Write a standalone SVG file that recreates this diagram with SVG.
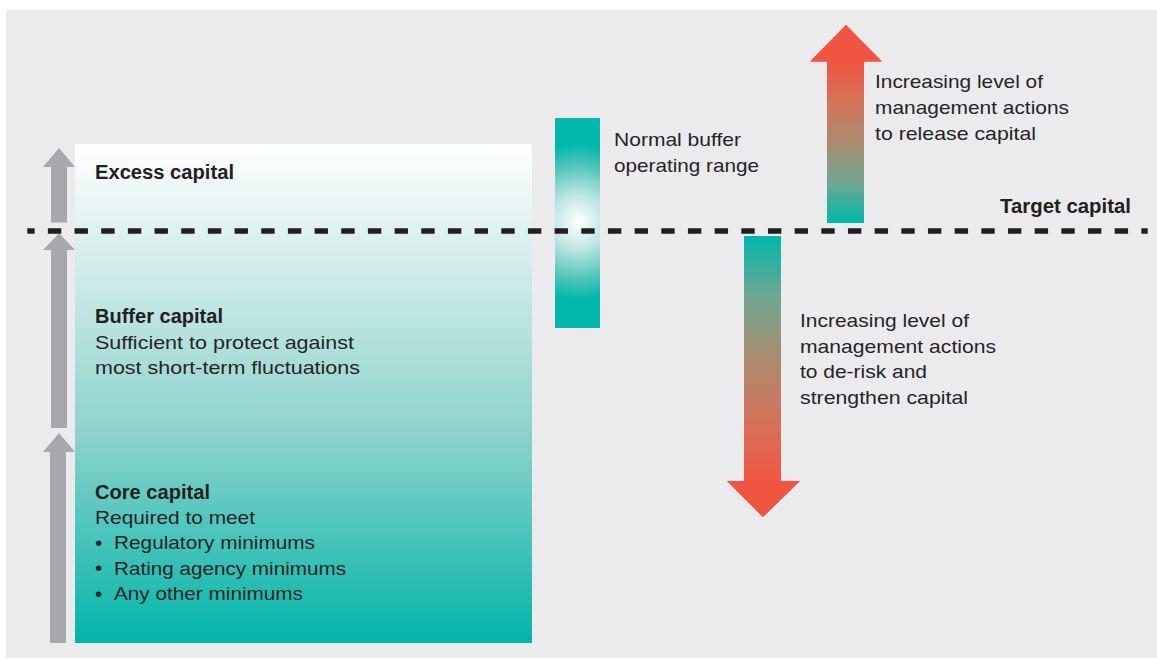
<svg xmlns="http://www.w3.org/2000/svg" width="1157" height="659" viewBox="0 0 1157 659">
  <defs>
    <style>
      .t { font-family: "Liberation Sans", Arial, sans-serif; font-size: 19px; fill: #262425; }
      .b { font-family: "Liberation Sans", Arial, sans-serif; font-size: 19.5px; font-weight: bold; fill: #231F20; }
      .dot { font-family: "Liberation Sans", Arial, sans-serif; font-size: 21px; fill: #262425; }
      .grey { fill: #A7A8AC; }
    </style>
    <!-- capital stack: white at the top fading to teal -->
    <linearGradient id="stackFill" x1="0" y1="144" x2="0" y2="643" gradientUnits="userSpaceOnUse">
      <stop offset="0" stop-color="#FFFFFF"/>
      <stop offset="0.3" stop-color="#C6E8E4"/>
      <stop offset="0.6" stop-color="#88D1CA"/>
      <stop offset="1" stop-color="#00B5A9"/>
    </linearGradient>
    <!-- buffer range bar: bright around the target line -->
    <radialGradient id="rangeFill" cx="578" cy="222" r="78" gradientUnits="userSpaceOnUse">
      <stop offset="0" stop-color="#FFFFFF"/>
      <stop offset="0.35" stop-color="#BDE6E2"/>
      <stop offset="0.75" stop-color="#4AC3B8"/>
      <stop offset="1" stop-color="#00B8AB"/>
    </radialGradient>
    <linearGradient id="upFill" x1="0" y1="62" x2="0" y2="223" gradientUnits="userSpaceOnUse">
      <stop offset="0" stop-color="#F05542"/>
      <stop offset="0.25" stop-color="#D4735A"/>
      <stop offset="0.5" stop-color="#AA8B6F"/>
      <stop offset="0.75" stop-color="#70A792"/>
      <stop offset="1" stop-color="#00B8AB"/>
    </linearGradient>
    <linearGradient id="downFill" x1="0" y1="236" x2="0" y2="481" gradientUnits="userSpaceOnUse">
      <stop offset="0" stop-color="#00B8AB"/>
      <stop offset="0.25" stop-color="#70A792"/>
      <stop offset="0.5" stop-color="#AA8B6F"/>
      <stop offset="0.75" stop-color="#D4735A"/>
      <stop offset="1" stop-color="#F05542"/>
    </linearGradient>
  </defs>

  <!-- panel -->
  <rect x="0" y="0" width="1157" height="659" fill="#FFFFFF"/>
  <rect x="6" y="10" width="1151" height="648" fill="#EBEBED"/>

  <!-- capital stack -->
  <g id="stack">
    <rect x="75" y="144" width="457" height="499" fill="url(#stackFill)"/>
  </g>

  <g id="excess-capital">
    <text class="b" x="95" y="179" textLength="139" lengthAdjust="spacingAndGlyphs">Excess capital</text>
  </g>

  <g id="buffer-capital">
    <text class="b" x="95" y="322.7" textLength="128" lengthAdjust="spacingAndGlyphs">Buffer capital</text>
    <text class="t" x="95" y="349" textLength="259" lengthAdjust="spacingAndGlyphs">Sufficient to protect against</text>
    <text class="t" x="95" y="374.3" textLength="265" lengthAdjust="spacingAndGlyphs">most short-term fluctuations</text>
  </g>

  <g id="core-capital">
    <text class="b" x="95" y="499" textLength="115" lengthAdjust="spacingAndGlyphs">Core capital</text>
    <text class="t" x="95" y="524.3" textLength="160" lengthAdjust="spacingAndGlyphs">Required to meet</text>
    <text class="dot" x="95" y="549.8">•</text>
    <text class="t" x="114" y="549.3" textLength="201" lengthAdjust="spacingAndGlyphs">Regulatory minimums</text>
    <text class="dot" x="95" y="575.2">•</text>
    <text class="t" x="114" y="574.7" textLength="232" lengthAdjust="spacingAndGlyphs">Rating agency minimums</text>
    <text class="dot" x="95" y="600.5">•</text>
    <text class="t" x="114" y="600" textLength="189" lengthAdjust="spacingAndGlyphs">Any other minimums</text>
  </g>

  <!-- grey level arrows beside the stack -->
  <g id="level-arrows">
    <path class="grey" d="M59,148 L75,167 L67,167 L67,222.5 L51,222.5 L51,167 L43,167 Z"/>
    <path class="grey" d="M59,233.3 L75,250 L67,250 L67,428 L51,428 L51,250 L43,250 Z"/>
    <path class="grey" d="M59,433 L75,452 L66,452 L66,643 L50,643 L50,452 L43,452 Z"/>
  </g>

  <!-- normal buffer operating range -->
  <g id="operating-range">
    <rect x="555" y="118" width="45" height="210" fill="url(#rangeFill)"/>
    <text class="t" x="614" y="146" textLength="127" lengthAdjust="spacingAndGlyphs">Normal buffer</text>
    <text class="t" x="614" y="171.7" textLength="145" lengthAdjust="spacingAndGlyphs">operating range</text>
  </g>

  <!-- release capital arrow -->
  <g id="release-actions">
    <path d="M846,25 L882,61.5 L864,61.5 L864,223 L827,223 L827,61.5 L810,61.5 Z" fill="url(#upFill)"/>
    <path d="M846,25 L882,61.5 L810,61.5 Z" fill="#F05542"/>
    <text class="t" x="875" y="88.3" textLength="168" lengthAdjust="spacingAndGlyphs">Increasing level of</text>
    <text class="t" x="875" y="114.3" textLength="194" lengthAdjust="spacingAndGlyphs">management actions</text>
    <text class="t" x="875" y="140" textLength="161" lengthAdjust="spacingAndGlyphs">to release capital</text>
  </g>

  <!-- de-risk arrow -->
  <g id="derisk-actions">
    <path d="M744,236 L781,236 L781,481 L800,481 L763,517 L727,481 L744,481 Z" fill="url(#downFill)"/>
    <path d="M727,481 L800,481 L763,517 Z" fill="#F05542"/>
    <text class="t" x="800" y="326.7" textLength="169" lengthAdjust="spacingAndGlyphs">Increasing level of</text>
    <text class="t" x="800" y="352.7" textLength="196" lengthAdjust="spacingAndGlyphs">management actions</text>
    <text class="t" x="800" y="378.3" textLength="127" lengthAdjust="spacingAndGlyphs">to de-risk and</text>
    <text class="t" x="800" y="404" textLength="168" lengthAdjust="spacingAndGlyphs">strengthen capital</text>
  </g>

  <!-- target capital line -->
  <g id="connectors">
    <line x1="27.3" y1="231" x2="1147.7" y2="231" stroke="#231F20" stroke-width="5.4" stroke-dasharray="13.4 13.27" stroke-dashoffset="6.1"/>
  </g>
  <g id="target-capital">
    <text class="b" x="1000" y="213.3" textLength="131" lengthAdjust="spacingAndGlyphs">Target capital</text>
  </g>
</svg>
